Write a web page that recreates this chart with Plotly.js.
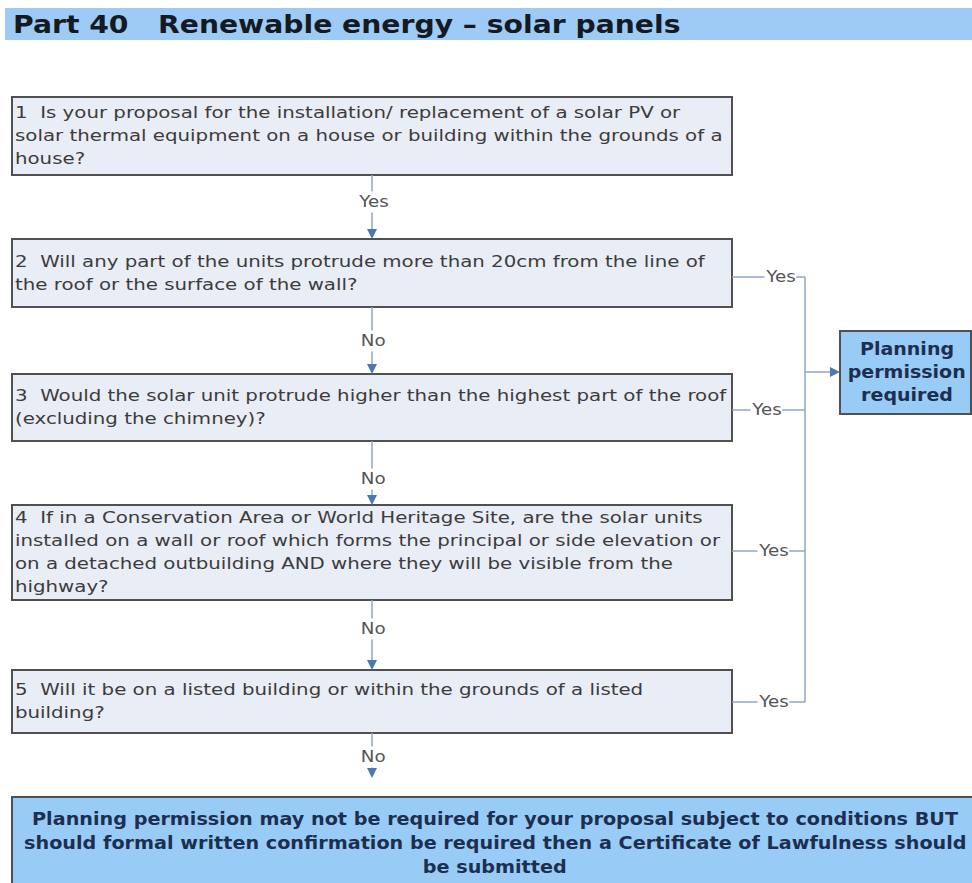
<!DOCTYPE html>
<html>
<head>
<meta charset="utf-8">
<script src="https://cdn.plot.ly/plotly-3.0.1.min.js"></script>
<style>html,body{margin:0;padding:0;background:#fff;}#chart{width:972px;height:883px;}</style>
</head>
<body>
<div id="chart"></div>
<script>
// ---- content ----
const titleText = "Part 40   Renewable energy \u2013 solar panels";
const questions = [
  ["1  Is your proposal for the installation/ replacement of a solar PV or",
   "solar thermal equipment on a house or building within the grounds of a",
   "house?"],
  ["2  Will any part of the units protrude more than 20cm from the line of",
   "the roof or the surface of the wall?"],
  ["3  Would the solar unit protrude higher than the highest part of the roof",
   "(excluding the chimney)?"],
  ["4  If in a Conservation Area or World Heritage Site, are the solar units",
   "installed on a wall or roof which forms the principal or side elevation or",
   "on a detached outbuilding AND where they will be visible from the",
   "highway?"],
  ["5  Will it be on a listed building or within the grounds of a listed",
   "building?"]
];
const downLabels = ["Yes", "No", "No", "No", "No"];
const sideLabels = ["Yes", "Yes", "Yes", "Yes"];
const outcomeRequired = ["Planning", "permission", "required"];
const outcomeFinal = [
  "Planning permission may not be required for your proposal subject to conditions BUT",
  "should formal written confirmation be required then a Certificate of Lawfulness should",
  "be submitted"
];

// ---- layout geometry (pixels) ----
const boxTop = [97, 239, 374, 505, 670];
const boxBot = [175, 307, 441, 600, 733];
const boxX0 = 12, boxX1 = 732;
const midX = 372;
const lineH = 23;
const busX = 805;
const sideY = [277, 410, 551, 702];
const sideLabelX = [780, 766, 773, 773];
const downLabelY = [202, 341, 479, 629, 757];
const reqBox = {x0: 840, x1: 971, y0: 331, y1: 414};
const finBox = {x0: 12, x1: 975, y0: 797, y1: 890};

const lineCol = "#8FA6C6";
const headCol = "#4A78B5";
const boxFill = "#E9EDF6";
const boxLine = "#505050";
const textCol = "#3c3c3c";
const blueFill = "#99CBF7";
const boldCol = "#1d2f4f";
const FONT = "DejaVu Sans, Verdana, sans-serif";

const shapes = [];
const annotations = [];
const stretch = [];   // horizontal text stretch per annotation

function addAnn(a, s) { annotations.push(a); stretch.push(s); }

// title banner
shapes.push({type:"rect", xref:"x", yref:"y", x0:5, x1:972, y0:8, y1:40,
  fillcolor:"#9DCBF6", line:{width:0}, layer:"below"});
addAnn({x:12, y:24, xref:"x", yref:"y", xanchor:"left", yanchor:"middle", align:"left",
  text:"<b>"+titleText+"</b>", showarrow:false, borderpad:0,
  font:{family:FONT, size:25, color:"#151a22"}}, 1.13);

function head(x, y, dir) {
  const s = 5;
  let p;
  if (dir === "down") p = `M ${x-s} ${y-2*s} L ${x+s} ${y-2*s} L ${x} ${y} Z`;
  else p = `M ${x-2*s} ${y-s} L ${x-2*s} ${y+s} L ${x} ${y} Z`;
  shapes.push({type:"path", xref:"x", yref:"y", path:p, fillcolor:headCol, line:{width:0}});
}

// question boxes
questions.forEach((lines, i) => {
  shapes.push({type:"rect", xref:"x", yref:"y", x0:boxX0, x1:boxX1, y0:boxTop[i], y1:boxBot[i],
    fillcolor:boxFill, line:{color:boxLine, width:2}});
  const c = (boxTop[i] + boxBot[i]) / 2;
  const start = c - (lines.length - 1) * lineH / 2;
  lines.forEach((t, j) => {
    addAnn({x:boxX0 + 2, y:start + j*lineH, xref:"x", yref:"y",
      xanchor:"left", yanchor:"middle", align:"left", text:t, showarrow:false, borderpad:0,
      font:{family:FONT, size:15, color:textCol}}, 1.32);
  });
});

// vertical connectors down
for (let i = 0; i < 5; i++) {
  const y0 = boxBot[i];
  const tip = i < 4 ? boxTop[i+1] : 778;
  shapes.push({type:"line", xref:"x", yref:"y", x0:midX, x1:midX, y0:y0, y1:tip-2,
    line:{color:lineCol, width:1.5}});
  head(midX, tip, "down");
  addAnn({x:midX+1, y:downLabelY[i], xref:"x", yref:"y", text:downLabels[i],
    showarrow:false, bgcolor:"#fff", borderpad:1,
    font:{family:FONT, size:15, color:"#555"}}, 1.22);
}

// side Yes connectors
sideY.forEach((y, k) => {
  shapes.push({type:"line", xref:"x", yref:"y", x0:boxX1, x1:busX, y0:y, y1:y,
    line:{color:lineCol, width:1.5}});
  addAnn({x:sideLabelX[k], y:y, xref:"x", yref:"y", text:sideLabels[k],
    showarrow:false, bgcolor:"#fff", borderpad:0,
    font:{family:FONT, size:15, color:"#555"}}, 1.22);
});
shapes.push({type:"line", xref:"x", yref:"y", x0:busX, x1:busX, y0:sideY[0], y1:sideY[3],
  line:{color:lineCol, width:1.5}});
shapes.push({type:"line", xref:"x", yref:"y", x0:busX, x1:reqBox.x0-4, y0:372, y1:372,
  line:{color:lineCol, width:1.5}});
head(reqBox.x0, 372, "right");

// planning permission required box
shapes.push({type:"rect", xref:"x", yref:"y", x0:reqBox.x0, x1:reqBox.x1, y0:reqBox.y0, y1:reqBox.y1,
  fillcolor:blueFill, line:{color:boxLine, width:2}});
outcomeRequired.forEach((t, j) => {
  addAnn({x:(reqBox.x0+reqBox.x1)/2 + 1, y:349 + j*lineH, xref:"x", yref:"y",
    text:"<b>"+t+"</b>", showarrow:false, borderpad:0,
    font:{family:FONT, size:17, color:boldCol}}, 1.12);
});

// final box
shapes.push({type:"rect", xref:"x", yref:"y", x0:finBox.x0, x1:finBox.x1, y0:finBox.y0, y1:finBox.y1,
  fillcolor:blueFill, line:{color:boxLine, width:2}});
outcomeFinal.forEach((t, j) => {
  addAnn({x:495, y:819 + j*24, xref:"x", yref:"y",
    text:"<b>"+t+"</b>", showarrow:false, borderpad:0,
    font:{family:FONT, size:17, color:boldCol}}, 1.13);
});

const layout = {
  width:972, height:883,
  margin:{l:0, r:0, t:0, b:0},
  paper_bgcolor:"#fff", plot_bgcolor:"#fff",
  xaxis:{range:[0,972], visible:false, fixedrange:true},
  yaxis:{range:[883,0], visible:false, fixedrange:true},
  shapes:shapes, annotations:annotations, showlegend:false
};

function applyStretch(gd) {
  gd.querySelectorAll("g.annotation").forEach(g => {
    const idx = +g.getAttribute("data-index");
    const s = stretch[idx];
    if (!s || s === 1) return;
    const t = g.querySelector("text.annotation-text");
    if (!t) return;
    const x = parseFloat(t.getAttribute("x")) || 0;
    const tr = `translate(${x},0) scale(${s},1) translate(${-x},0)`;
    t.setAttribute("transform", tr);
    const bg = g.querySelector("rect.bg");
    if (bg) bg.setAttribute("transform", tr);
  });
}
Plotly.newPlot("chart", [], layout, {staticPlot:true}).then(applyStretch);
</script>
</body>
</html>
